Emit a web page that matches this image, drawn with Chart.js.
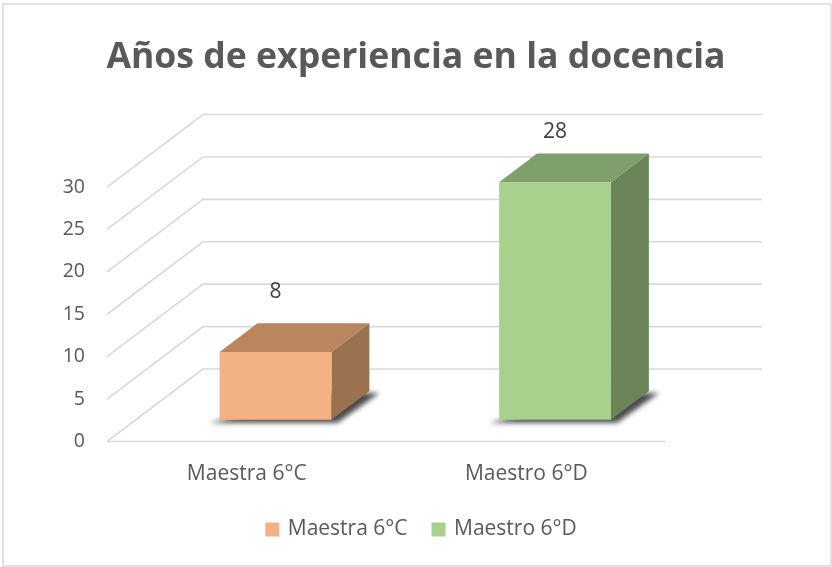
<!DOCTYPE html>
<html><head><meta charset="utf-8">
<style>html,body{margin:0;padding:0;background:#fff}#wrap{width:832px;height:567px}</style>
<script src="https://cdn.jsdelivr.net/npm/chart.js@4"></script>
</head><body><div id="wrap"><canvas id="c" width="832" height="567"></canvas></div>
<script>
const categories = ['Maestra 6°C', 'Maestro 6°D'];
const seriesNames = ['Maestra 6°C', 'Maestro 6°D'];
const maestraValues = [8, null];
const maestroValues = [null, 28];
const frontColors = ['#F4B183', '#A9D18E'];
const topColors = ['#B98660', '#7F9F6B'];
const sideColors = ['#9B7250', '#6B8559'];
const FONT = '"Open Sans", sans-serif';
const TEXT = '#595959';

const DEPTH_X = 96, DEPTH_Y = 72.5;
const BAR_START = 0.30, BAR_DEPTH = 0.395;
const LABEL_GAP = [60, 50.5];

function poly(ctx, pts, fill) {
  ctx.beginPath();
  pts.forEach((p, i) => i ? ctx.lineTo(p[0], p[1]) : ctx.moveTo(p[0], p[1]));
  ctx.closePath();
  ctx.fillStyle = fill;
  ctx.fill();
}

const scene3d = {
  id: 'scene3d',
  afterLayout(chart) { chart.legend.left += 12; },
  beforeDraw(chart) {
    const { ctx, width, height } = chart;
    ctx.save();
    ctx.strokeStyle = '#E2E2E2';
    ctx.lineWidth = 2;
    ctx.strokeRect(3, 4, width - 4, height - 4 - 1);
    ctx.restore();
  },
  beforeDatasetsDraw(chart) {
    const { ctx, chartArea: a, scales: { x, y } } = chart;
    ctx.save();
    ctx.strokeStyle = '#D9D9D9';
    ctx.lineWidth = 1.6;
    y.ticks.forEach(t => {
      const py = y.getPixelForValue(t.value);
      ctx.beginPath();
      ctx.moveTo(a.left, py);
      ctx.lineTo(a.left + DEPTH_X, py - DEPTH_Y);
      ctx.lineTo(a.right + DEPTH_X, py - DEPTH_Y);
      ctx.stroke();
    });
    const base = y.getPixelForValue(0);
    ctx.beginPath();
    ctx.moveTo(a.left, base);
    ctx.lineTo(a.right, base);
    ctx.stroke();
    ctx.restore();
  },
  beforeDatasetDraw(chart, args) {
    const { ctx } = chart;
    const i = args.index;
    const meta = args.meta;
    meta.data.forEach((bar, k) => {
      const v = chart.data.datasets[i].data[k];
      if (v === null) return;
      const ox = DEPTH_X * BAR_START, oy = DEPTH_Y * BAR_START;
      const dx = DEPTH_X * BAR_DEPTH, dy = DEPTH_Y * BAR_DEPTH;
      const l = bar.x - bar.width / 2 + ox, r = bar.x + bar.width / 2 + ox;
      const t = bar.y - oy, b = bar.base - oy;
      // floor shadow
      ctx.save();
      ctx.filter = 'blur(2.5px)';
      poly(ctx, [[l - 10, b + 3], [r + 6, b + 3], [r + dx + 10, b - dy + 2], [r, b - dy + 2]], '#4a4a4a');
      ctx.restore();
      poly(ctx, [[l, t], [r, t], [r + dx, t - dy], [l + dx, t - dy]], topColors[i]);
      poly(ctx, [[r, t], [r + dx, t - dy], [r + dx, b - dy], [r, b]], sideColors[i]);
      poly(ctx, [[l, t], [r, t], [r, b], [l, b]], frontColors[i]);
      ctx.save();
      ctx.font = '21px ' + FONT;
      ctx.fillStyle = '#404040';
      ctx.textAlign = 'center';
      ctx.textBaseline = 'middle';
      ctx.fillText(String(v), (l + r) / 2, t - LABEL_GAP[i]);
      ctx.restore();
    });
    return false;
  }
};

new Chart(document.getElementById('c'), {
  type: 'bar',
  data: {
    labels: categories,
    datasets: [
      { label: seriesNames[0], data: maestraValues, backgroundColor: frontColors[0], borderColor: frontColors[0], borderWidth: 4, stack: 's' },
      { label: seriesNames[1], data: maestroValues, backgroundColor: frontColors[1], borderColor: frontColors[1], borderWidth: 4, stack: 's' }
    ]
  },
  plugins: [scene3d],
  options: {
    responsive: false,
    animation: false,
    devicePixelRatio: 1,
    layout: { padding: { left: 0, right: 0, top: 0, bottom: 17 } },
    datasets: { bar: { barPercentage: 0.4, categoryPercentage: 1 } },
    plugins: {
      tooltip: { enabled: false },
      title: {
        display: true,
        text: 'Años de experiencia en la docencia',
        color: TEXT,
        font: { family: FONT, size: 35.6, weight: 'bold', lineHeight: 1.2 },
        padding: { top: 36, bottom: 108.3 }
      },
      legend: {
        position: 'bottom',
        labels: { boxWidth: 10, boxHeight: 10, padding: 26, color: TEXT, font: { family: FONT, size: 21 } }
      }
    },
    scales: {
      x: {
        stacked: true,
        grid: { display: false },
        border: { display: false },
        ticks: { color: TEXT, font: { family: FONT, size: 21 }, padding: 12, maxRotation: 0 },
        afterFit(s) { s.height = 51.5; }
      },
      y: {
        stacked: true,
        min: 0, max: 30,
        grid: { display: false },
        border: { display: false },
        ticks: { stepSize: 5, color: TEXT, font: { family: FONT, size: 19.5 }, padding: 14 },
        afterFit(s) { s.width = 107; }
      },
      pad: {
        type: 'linear',
        position: 'right',
        grid: { display: false },
        border: { display: false },
        ticks: { display: false },
        afterFit(s) { s.width = 166; }
      }
    }
  }
});
</script></body></html>
